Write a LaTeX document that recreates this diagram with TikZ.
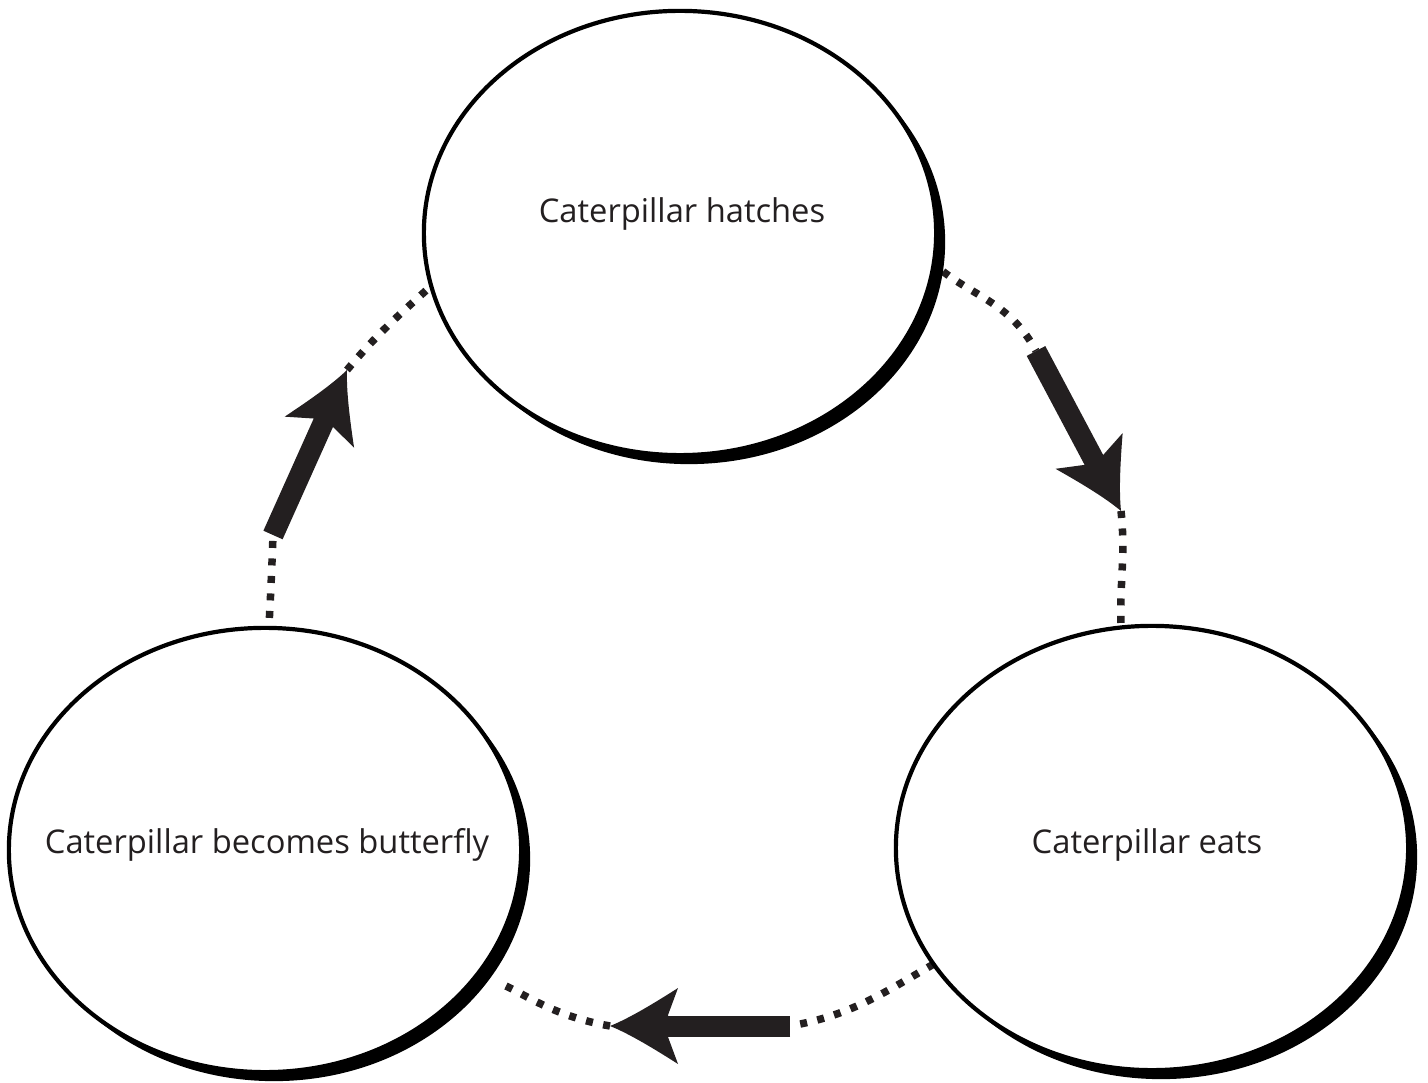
\documentclass[tikz,border=0pt]{standalone}
\usepackage{fontspec}
\setmainfont{Open Sans}
\usetikzlibrary{shapes.geometric,shadows}
\definecolor{ink}{HTML}{231F20}
\pgfdeclarelayer{background}
\pgfsetlayers{background,main}
\begin{document}
\begin{tikzpicture}[x=0.01cm,y=0.01cm,
  stage/.style={ellipse, draw=black, line width=0.042cm, fill=white,
    minimum width=5.12cm, minimum height=4.44cm, inner sep=0pt, outer sep=0pt,
    drop shadow={shadow xshift=0.09cm, shadow yshift=-0.09cm, fill=black, opacity=1}},
  lbl/.style={font=\fontsize{9.3}{11}\selectfont, text=ink, inner sep=0pt},
  dots/.style={draw=ink, line width=0.075cm, dash pattern=on 0.07cm off 0.105cm},
  shaft/.style={draw=ink, line width=0.21cm, shorten >=0.48cm},
  tiphead/.pic={\fill[ink] (0,0) .. controls (-20,8) and (-46,24) .. (-68,38)
     -- (-58,11) -- (-58,-11) -- (-68,-38) .. controls (-46,-24) and (-20,-8) .. (0,0) -- cycle;}
]
\useasboundingbox (0,0) rectangle (1428,-1083);
\node[stage] (top) at (680,-233) {};
\node[stage] (left) at (265,-850) {};
\node[stage] (right) at (1152,-848) {};
\node[lbl] (toptext) at (682,-214) {Caterpillar hatches};
\node[lbl] (lefttext) at (267,-845) {Caterpillar becomes butterfly};
\node[lbl] (righttext) at (1147,-845) {Caterpillar eats};

\coordinate (a1s) at (1036,-351);
\coordinate (a1e) at (1121,-511);
\coordinate (a2s) at (790,-1026);
\coordinate (a2e) at (610,-1026);
\coordinate (a3s) at (273,-535);
\coordinate (a3e) at (347,-370);

\begin{pgfonlayer}{background}
\draw[dots, shorten <=0.12cm] (top.-7) to[out=-38,in=118] (a1s);
\draw[dots] (a1e) to[out=-84,in=92] (right.98);
\draw[dots] (right.208) to[out=210,in=10] (a2s);
\draw[dots, shorten >=0.3cm] (a2e) to[out=170,in=-25] (left.-30);
\draw[dots, shorten <=0.1cm] (left.89) to[out=87,in=-92] (a3s);
\draw[dots] (a3e) to[out=50,in=222] (top.192);
\end{pgfonlayer}

\draw[shaft] (a1s) -- (a1e);
\pic[rotate=-62] at (a1e) {tiphead};
\draw[shaft] (a2s) -- (a2e);
\pic[rotate=180] at (a2e) {tiphead};
\draw[shaft] (a3s) -- (a3e);
\pic[rotate=66] at (a3e) {tiphead};
\end{tikzpicture}
\end{document}
